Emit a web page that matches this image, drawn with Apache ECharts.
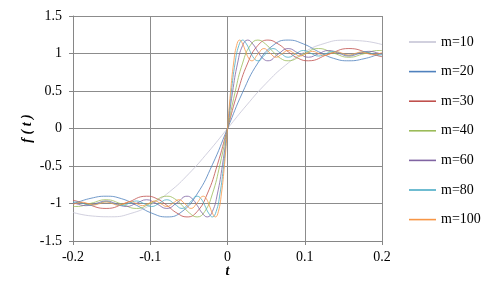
<!DOCTYPE html>
<html><head><meta charset="utf-8">
<script src="https://cdn.jsdelivr.net/npm/echarts@6/dist/echarts.min.js"></script>
<style>html,body{margin:0;padding:0;background:#fff}#c{width:500px;height:305px}</style>
</head><body><div id="c"></div>
<script>
var seriesNames = ['m=10','m=20','m=30','m=40','m=60','m=80','m=100'];
var xTicks = [-0.2,-0.1,0,0.1,0.2];
var yTicks = [-1.5,-1,-0.5,0,0.5,1,1.5];

var tM10 = [-0.2,-0.175,-0.15,-0.125,-0.1,-0.075,-0.05,-0.025,0,0.025,0.05,0.075,0.1,0.125,0.15,0.175,0.2];
var fM10 = [-1.1193,-1.1670,-1.1769,-1.1322,-1.0220,-0.8433,-0.6023,-0.3139,0,0.3139,0.6023,0.8433,1.0220,1.1322,1.1769,1.1670,1.1193];

var tM20 = [-0.2,-0.1963,-0.1767,-0.1571,-0.1374,-0.1178,-0.0982,-0.0785,-0.0589,-0.0393,-0.0196,0,0.0196,0.0393,0.0589,0.0785,0.0982,0.1178,0.1374,0.1571,0.1767,0.1963,0.2];
var fM20 = [-1.0022,-0.9906,-0.9302,-0.9028,-0.9351,-1.0241,-1.1279,-1.1790,-1.1075,-0.8727,-0.4832,0,0.4832,0.8727,1.1075,1.1790,1.1279,1.0241,0.9351,0.9028,0.9302,0.9906,1.0022];

var tM30 = [-0.2,-0.1963,-0.1833,-0.1571,-0.1309,-0.1047,-0.0916,-0.0785,-0.0654,-0.0524,-0.0393,-0.0262,-0.0131,0,0.0131,0.0262,0.0393,0.0524,0.0654,0.0785,0.0916,0.1047,0.1309,0.1571,0.1833,0.1963,0.2];
var fM30 = [-0.9581,-0.9654,-1.0050,-1.0662,-0.9906,-0.9028,-0.9351,-1.0241,-1.1279,-1.1790,-1.1075,-0.8727,-0.4832,0,0.4832,0.8727,1.1075,1.1790,1.1279,1.0241,0.9351,0.9028,0.9906,1.0662,1.0050,0.9654,0.9581];

var tM40 = [-0.2,-0.1963,-0.1767,-0.1571,-0.1374,-0.1178,-0.0982,-0.0785,-0.0687,-0.0589,-0.0491,-0.0393,-0.0295,-0.0196,-0.0098,0,0.0098,0.0196,0.0295,0.0393,0.0491,0.0589,0.0687,0.0785,0.0982,0.1178,0.1374,0.1571,0.1767,0.1963,0.2];
var fM40 = [-1.0385,-1.0402,-0.9969,-0.9499,-1.0050,-1.0662,-0.9906,-0.9028,-0.9351,-1.0241,-1.1279,-1.1790,-1.1075,-0.8727,-0.4832,0,0.4832,0.8727,1.1075,1.1790,1.1279,1.0241,0.9351,0.9028,0.9906,1.0662,1.0050,0.9499,0.9969,1.0402,1.0385];

var tM60 = [-0.2,-0.1963,-0.1833,-0.1702,-0.1571,-0.1440,-0.1309,-0.1178,-0.1047,-0.0916,-0.0785,-0.0654,-0.0524,-0.0458,-0.0393,-0.0327,-0.0262,-0.0196,-0.0131,-0.0065,0,0.0065,0.0131,0.0196,0.0262,0.0327,0.0393,0.0458,0.0524,0.0654,0.0785,0.0916,0.1047,0.1178,0.1309,0.1440,0.1571,0.1702,0.1833,0.1963,0.2];
var fM60 = [-0.9898,-1.0011,-1.0288,-0.9985,-0.9664,-1.0021,-1.0402,-0.9969,-0.9499,-1.0050,-1.0662,-0.9906,-0.9028,-0.9351,-1.0241,-1.1279,-1.1790,-1.1075,-0.8727,-0.4832,0,0.4832,0.8727,1.1075,1.1790,1.1279,1.0241,0.9351,0.9028,0.9906,1.0662,1.0050,0.9499,0.9969,1.0402,1.0021,0.9664,0.9985,1.0288,1.0011,0.9898];

var tM80 = [-0.2,-0.1963,-0.1865,-0.1767,-0.1669,-0.1571,-0.1473,-0.1374,-0.1276,-0.1178,-0.1080,-0.0982,-0.0884,-0.0785,-0.0687,-0.0589,-0.0491,-0.0393,-0.0344,-0.0295,-0.0245,-0.0196,-0.0147,-0.0098,-0.0049,0,0.0049,0.0098,0.0147,0.0196,0.0245,0.0295,0.0344,0.0393,0.0491,0.0589,0.0687,0.0785,0.0884,0.0982,0.1080,0.1178,0.1276,0.1374,0.1473,0.1571,0.1669,0.1767,0.1865,0.1963,0.2];
var fM80 = [-0.9831,-0.9798,-1.0007,-1.0225,-0.9991,-0.9747,-1.0011,-1.0288,-0.9985,-0.9664,-1.0021,-1.0402,-0.9969,-0.9499,-1.0050,-1.0662,-0.9906,-0.9028,-0.9351,-1.0241,-1.1279,-1.1790,-1.1075,-0.8727,-0.4832,0,0.4832,0.8727,1.1075,1.1790,1.1279,1.0241,0.9351,0.9028,0.9906,1.0662,1.0050,0.9499,0.9969,1.0402,1.0021,0.9664,0.9985,1.0288,1.0011,0.9747,0.9991,1.0225,1.0007,0.9798,0.9831];

var tM100 = [-0.2,-0.1963,-0.1885,-0.1806,-0.1728,-0.1649,-0.1571,-0.1492,-0.1414,-0.1335,-0.1257,-0.1178,-0.1100,-0.1021,-0.0942,-0.0864,-0.0785,-0.0707,-0.0628,-0.0550,-0.0471,-0.0393,-0.0314,-0.0275,-0.0236,-0.0196,-0.0157,-0.0118,-0.0079,-0.0039,0,0.0039,0.0079,0.0118,0.0157,0.0196,0.0236,0.0275,0.0314,0.0393,0.0471,0.0550,0.0628,0.0707,0.0785,0.0864,0.0942,0.1021,0.1100,0.1178,0.1257,0.1335,0.1414,0.1492,0.1571,0.1649,0.1728,0.1806,0.1885,0.1963,0.2];
var fM100 = [-1.0103,-0.9996,-0.9831,-1.0005,-1.0184,-0.9994,-0.9798,-1.0007,-1.0225,-0.9991,-0.9747,-1.0011,-1.0288,-0.9985,-0.9664,-1.0021,-1.0402,-0.9969,-0.9499,-1.0050,-1.0662,-0.9906,-0.9028,-0.9351,-1.0241,-1.1279,-1.1790,-1.1075,-0.8727,-0.4832,0,0.4832,0.8727,1.1075,1.1790,1.1279,1.0241,0.9351,0.9028,0.9906,1.0662,1.0050,0.9499,0.9969,1.0402,1.0021,0.9664,0.9985,1.0288,1.0011,0.9747,0.9991,1.0225,1.0007,0.9798,0.9994,1.0184,1.0005,0.9831,0.9996,1.0103];

var colors = ['#C6C4D6','#4F81BD','#C0504D','#9BBB59','#8064A2','#4BACC6','#F79646'];
var tArrays = [tM10,tM20,tM30,tM40,tM60,tM80,tM100];
var fArrays = [fM10,fM20,fM30,fM40,fM60,fM80,fM100];

var font = 'Liberation Serif, Times New Roman, Tinos, DejaVu Serif, serif';
var chart = echarts.init(document.getElementById('c'), null, {renderer:'canvas'});
var series = seriesNames.map(function(name, s){
  return {
    name: name, type: 'line', smooth: 0.5, symbol: 'none',
    lineStyle: {width: 1, color: colors[s], opacity: 0.8},
    itemStyle: {color: colors[s]},
    data: tArrays[s].map(function(t, i){ return [t, fArrays[s][i]]; })
  };
});
chart.setOption({
  animation: false,
  color: colors,
  textStyle: {fontFamily: font},
  grid: {left: 73, right: 118, top: 16, bottom: 64},
  xAxis: {
    type: 'value', min: xTicks[0], max: xTicks[xTicks.length-1], interval: 0.1,
    name: 't', nameLocation: 'middle', nameGap: 23, nameMoveOverlap: false,
    nameTextStyle: {fontFamily: font, fontSize: 14, fontStyle: 'italic', fontWeight: 'bold', color: '#000'},
    axisLine: {onZero: false, lineStyle: {color: '#868686', width: 1}},
    axisTick: {show: true, inside: false, length: 4, lineStyle: {color: '#868686'}},
    axisLabel: {fontFamily: font, fontSize: 14, color: '#000', margin: 9,
      formatter: function(v){ return String(Math.round(v*10)/10); }},
    splitLine: {show: true, lineStyle: {color: '#8c8c8c', width: 1}}
  },
  yAxis: {
    type: 'value', min: yTicks[0], max: yTicks[yTicks.length-1], interval: 0.5,
    name: 'f ( t )', nameLocation: 'middle', nameGap: 39, nameRotate: 90, nameMoveOverlap: false,
    nameTextStyle: {fontFamily: font, fontSize: 14, fontStyle: 'italic', fontWeight: 'bold', color: '#000'},
    axisLine: {show: true, onZero: false, lineStyle: {color: '#868686', width: 1}},
    axisTick: {show: true, inside: false, length: 4, lineStyle: {color: '#868686'}},
    axisLabel: {fontFamily: font, fontSize: 14, color: '#000', margin: 11},
    splitLine: {show: true, lineStyle: {color: '#8c8c8c', width: 1}}
  },
  legend: {
    data: seriesNames, orient: 'vertical', left: 409, top: 35, padding: 0,
    itemWidth: 27, itemHeight: 14, itemGap: 15.6,
    icon: 'path://M0,0 L27,0 L27,1.6 L0,1.6 Z',
    textStyle: {fontFamily: font, fontSize: 14, color: '#000'}
  },
  series: series
});
</script></body></html>
